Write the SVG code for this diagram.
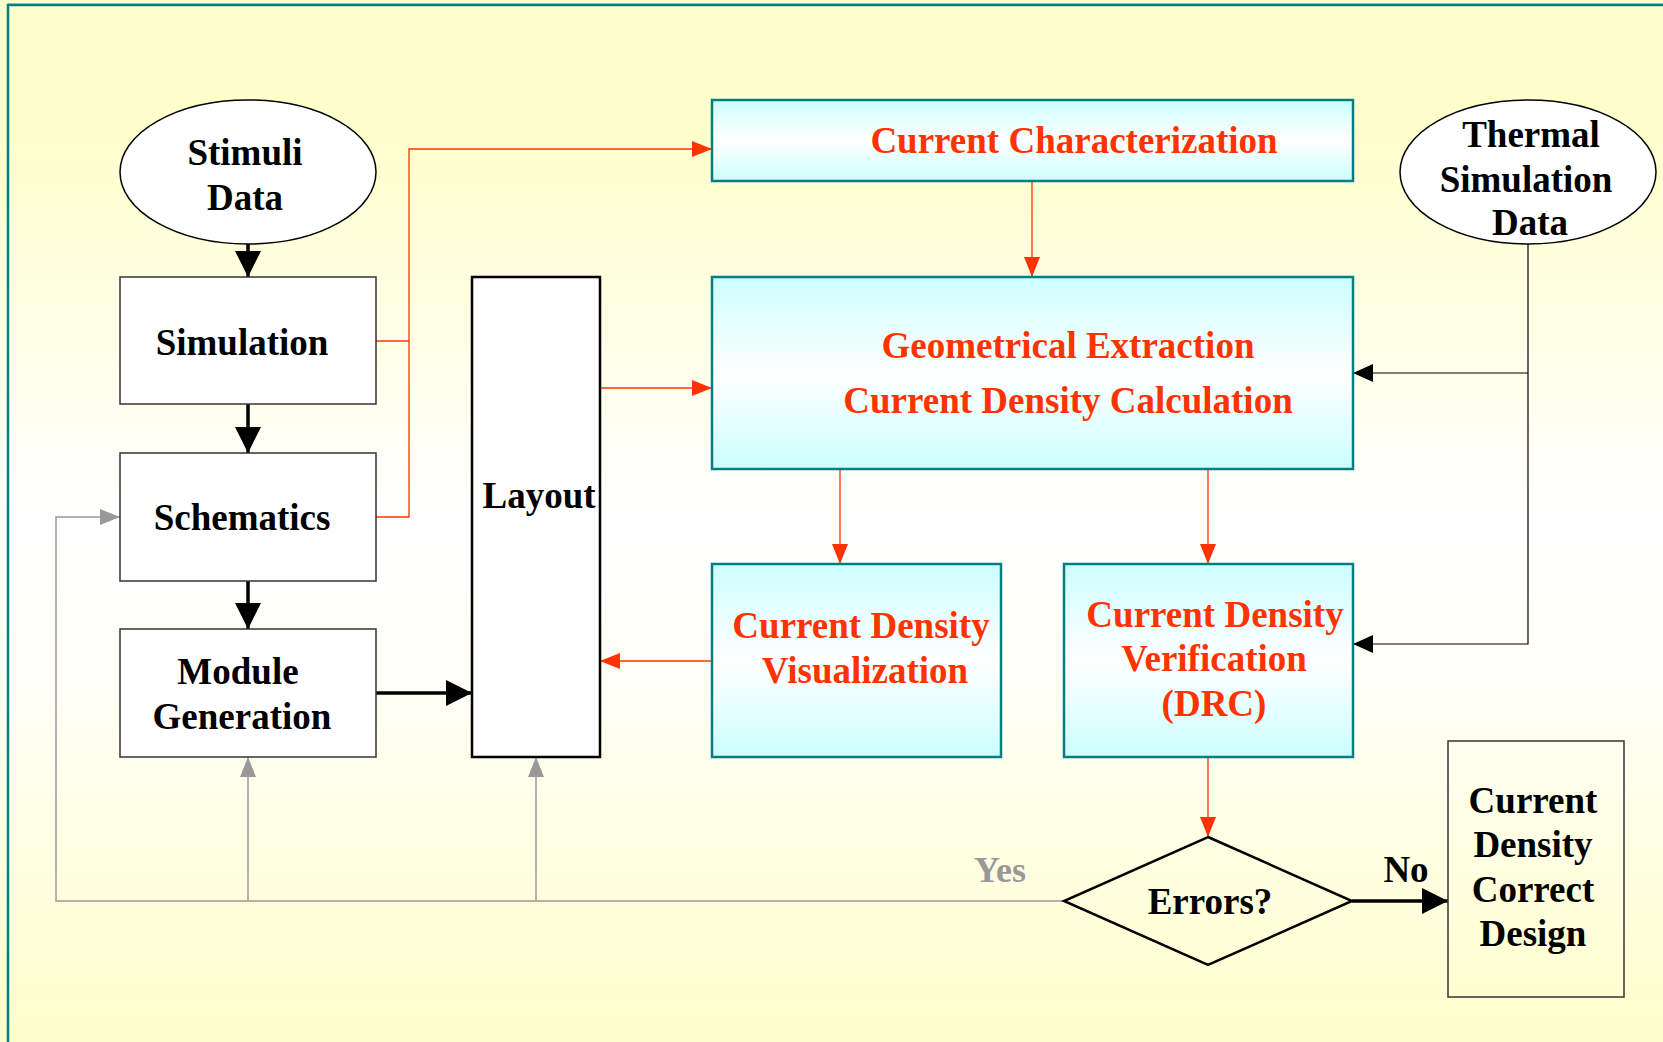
<svg xmlns="http://www.w3.org/2000/svg" width="1663" height="1042" viewBox="0 0 1663 1042">
  <defs>
    <linearGradient id="bgGrad" x1="0" y1="0" x2="0" y2="1">
      <stop offset="0" stop-color="#FFFFCC"/>
      <stop offset="0.12" stop-color="#FFFFCC"/>
      <stop offset="0.5" stop-color="#FFFFFF"/>
      <stop offset="0.68" stop-color="#FFFFF4"/>
      <stop offset="1" stop-color="#FFFFCC"/>
    </linearGradient>
    <linearGradient id="cyanGrad" x1="0" y1="0" x2="0" y2="1">
      <stop offset="0" stop-color="#CCFFFF"/>
      <stop offset="0.5" stop-color="#FFFFFF"/>
      <stop offset="1" stop-color="#CCFFFF"/>
    </linearGradient>
    <marker id="headBlack" markerUnits="userSpaceOnUse" markerWidth="26" markerHeight="26" refX="26" refY="13" orient="auto">
      <path d="M0,0 L26,13 L0,26 Z" fill="#000"/>
    </marker>
    <marker id="headBlackThin" markerUnits="userSpaceOnUse" markerWidth="20" markerHeight="18" refX="20" refY="9" orient="auto">
      <path d="M0,0 L20,9 L0,18 Z" fill="#000"/>
    </marker>
    <marker id="headRed" markerUnits="userSpaceOnUse" markerWidth="20" markerHeight="16" refX="20" refY="8" orient="auto">
      <path d="M0,0 L20,8 L0,16 Z" fill="#FF3300"/>
    </marker>
    <marker id="headGray" markerUnits="userSpaceOnUse" markerWidth="20" markerHeight="16" refX="20" refY="8" orient="auto">
      <path d="M0,0 L20,8 L0,16 Z" fill="#999999"/>
    </marker>
  </defs>
  <style>
    text { font-family: "Liberation Serif", "Times New Roman", serif; font-weight: bold; font-size: 37px; text-anchor: middle; }
    .dark { fill: #000; }
    .red { fill: #FF3300; }
    .gray { fill: #999999; }
    .box { fill: #FFFFFF; stroke: #333333; stroke-width: 1.5; }
    .cyan { fill: url(#cyanGrad); stroke: #008080; stroke-width: 2.5; }
    .oval { fill: #FFFFFF; stroke: #000; stroke-width: 1.5; }
    .thick { stroke: #000; stroke-width: 3.5; fill: none; marker-end: url(#headBlack); }
    .thin { stroke: #000; stroke-width: 1.2; fill: none; }
    .redline { stroke: #FF3300; stroke-width: 1.3; fill: none; }
    .grayline { stroke: #999999; stroke-width: 1.5; fill: none; }
  </style>

  <!-- page background with teal frame -->
  <rect x="0" y="0" width="1663" height="1042" fill="url(#bgGrad)"/>
  <line x1="8" y1="3.5" x2="1663" y2="3.5" stroke="#B8D4D4" stroke-width="1"/>
  <path d="M8,1042 L8,5 L1663,5" fill="none" stroke="#008080" stroke-width="2.5"/>

  <!-- connectors -->
  <g id="connectors">
    <!-- black flow down the left column -->
    <line class="thick" x1="248" y1="244" x2="248" y2="277"/>
    <line class="thick" x1="248" y1="404" x2="248" y2="453"/>
    <line class="thick" x1="248" y1="581" x2="248" y2="629"/>
    <line class="thick" x1="376" y1="693" x2="472" y2="693"/>

    <!-- red current-analysis flow -->
    <path class="redline" d="M376,341 H409"/>
    <path class="redline" d="M376,517 H409 V149 H712" marker-end="url(#headRed)"/>
    <line class="redline" x1="1032" y1="181" x2="1032" y2="277" marker-end="url(#headRed)"/>
    <line class="redline" x1="600" y1="388" x2="712" y2="388" marker-end="url(#headRed)"/>
    <line class="redline" x1="840" y1="469" x2="840" y2="564" marker-end="url(#headRed)"/>
    <line class="redline" x1="1208" y1="469" x2="1208" y2="564" marker-end="url(#headRed)"/>
    <line class="redline" x1="712" y1="661" x2="600" y2="661" marker-end="url(#headRed)"/>
    <line class="redline" x1="1208" y1="757" x2="1208" y2="837" marker-end="url(#headRed)"/>

    <!-- thermal data feeds -->
    <path class="thin" d="M1528,244 V644 H1353" marker-end="url(#headBlackThin)"/>
    <line class="thin" x1="1528" y1="373" x2="1353" y2="373" marker-end="url(#headBlackThin)"/>

    <!-- "Yes" feedback loop -->
    <path class="grayline" d="M1064,901 H56 V517 H120" marker-end="url(#headGray)"/>
    <line class="grayline" x1="248" y1="901" x2="248" y2="757" marker-end="url(#headGray)"/>
    <line class="grayline" x1="536" y1="901" x2="536" y2="757" marker-end="url(#headGray)"/>

    <!-- "No" exit -->
    <line class="thick" x1="1352" y1="901" x2="1448" y2="901" stroke-width="3"/>

    <text class="gray" x="1000" y="882" style="font-size:36px">Yes</text>
    <text class="dark" x="1406" y="882">No</text>
  </g>

  <!-- nodes -->
  <g id="stimuli-data">
    <ellipse class="oval" cx="248" cy="172" rx="128" ry="72"/>
    <text class="dark" x="245" y="165">Stimuli</text>
    <text class="dark" x="245" y="210">Data</text>
  </g>

  <g id="simulation">
    <rect class="box" x="120" y="277" width="256" height="127"/>
    <text class="dark" x="242" y="355">Simulation</text>
  </g>

  <g id="schematics">
    <rect class="box" x="120" y="453" width="256" height="128"/>
    <text class="dark" x="242" y="530">Schematics</text>
  </g>

  <g id="module-generation">
    <rect class="box" x="120" y="629" width="256" height="128"/>
    <text class="dark" x="238" y="684">Module</text>
    <text class="dark" x="242" y="729">Generation</text>
  </g>

  <g id="layout">
    <rect x="472" y="277" width="128" height="480" fill="#FFFFFF" stroke="#000" stroke-width="2.5"/>
    <text class="dark" x="539" y="508">Layout</text>
  </g>

  <g id="current-characterization">
    <rect class="cyan" x="712" y="100" width="641" height="81"/>
    <text class="red" x="1074" y="153">Current Characterization</text>
  </g>

  <g id="extraction-calculation">
    <rect class="cyan" x="712" y="277" width="641" height="192"/>
    <text class="red" x="1068" y="358">Geometrical Extraction</text>
    <text class="red" x="1068" y="413">Current Density Calculation</text>
  </g>

  <g id="thermal-simulation-data">
    <ellipse class="oval" cx="1528" cy="172" rx="128" ry="72"/>
    <text class="dark" x="1531" y="147">Thermal</text>
    <text class="dark" x="1526" y="192">Simulation</text>
    <text class="dark" x="1530" y="235">Data</text>
  </g>

  <g id="density-visualization">
    <rect class="cyan" x="712" y="564" width="289" height="193"/>
    <text class="red" x="861" y="638">Current Density</text>
    <text class="red" x="865" y="683">Visualization</text>
  </g>

  <g id="density-verification">
    <rect class="cyan" x="1064" y="564" width="289" height="193"/>
    <text class="red" x="1215" y="627">Current Density</text>
    <text class="red" x="1214" y="671">Verification</text>
    <text class="red" x="1214" y="716">(DRC)</text>
  </g>

  <g id="errors-decision">
    <polygon points="1208,837 1352,901 1208,965 1064,901" fill="none" stroke="#000" stroke-width="2.5"/>
    <text class="dark" x="1210" y="914">Errors?</text>
  </g>

  <g id="correct-design">
    <rect x="1448" y="741" width="176" height="256" fill="none" stroke="#333333" stroke-width="1.5"/>
    <text class="dark" x="1533" y="813">Current</text>
    <text class="dark" x="1533" y="857">Density</text>
    <text class="dark" x="1533" y="902">Correct</text>
    <text class="dark" x="1533" y="946">Design</text>
  </g>
</svg>
